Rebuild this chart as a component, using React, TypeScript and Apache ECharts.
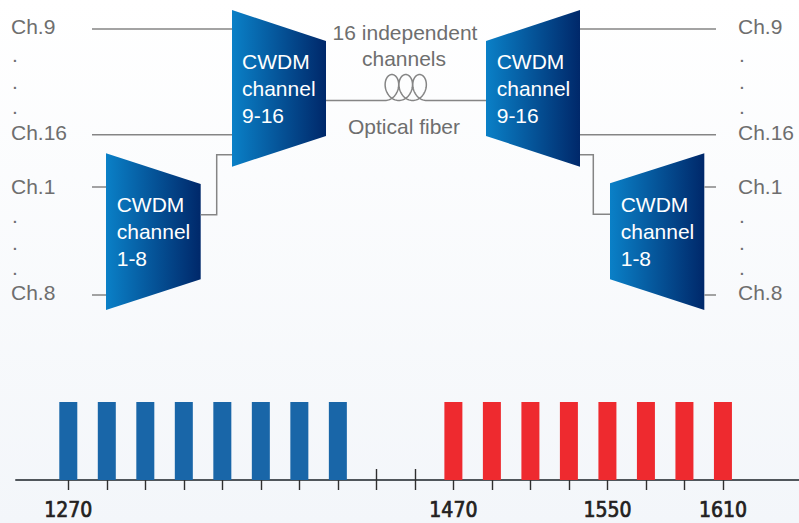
import React, { useEffect, useRef } from "react";
import * as echarts from "echarts";

// CWDM channel centre wavelengths (nm)
const blueChannels = [1270, 1290, 1310, 1330, 1350, 1370, 1390, 1410];
const redChannels = [1470, 1490, 1510, 1530, 1550, 1570, 1590, 1610];
const channelLevel = [1, 1, 1, 1, 1, 1, 1, 1];
const tickValues = [1270, 1290, 1310, 1330, 1350, 1370, 1390, 1410, 1430, 1450, 1470, 1490, 1510, 1530, 1550, 1570, 1590, 1610];
const labelValues = [1270, 1470, 1550, 1610];

const muxLabels = ["CWDM\nchannel\n9-16", "CWDM\nchannel\n1-8"];
const fiberLabels = ["16 independent", "channels", "Optical fiber"];

const GRAY = "#6e6e6e";
const LINE = "#858585";
const FONT = '"Liberation Sans", Arial, sans-serif';

function grad() {
  return new echarts.graphic.LinearGradient(0, 0, 1, 0, [
    { offset: 0, color: "#0a80c7" },
    { offset: 1, color: "#00286a" },
  ]);
}

function txt(text: string, x: number, y: number, fill: string, align = "left") {
  return {
    type: "text",
    x,
    y,
    silent: true,
    style: {
      text,
      fill,
      fontSize: 21,
      fontFamily: FONT,
      lineHeight: 27,
      align,
      verticalAlign: "middle",
    },
  };
}

function line(points: number[][]) {
  return {
    type: "polyline",
    silent: true,
    shape: { points },
    style: { stroke: LINE, lineWidth: 1.5, fill: null },
  };
}

function coilPoints() {
  const pts: number[][] = [[326, 100.5], [385, 100.5]];
  const x0 = 385, yb = 100.5, r = 2.2, a = 10, h = 26;
  const n = 240;
  for (let i = 1; i <= n; i++) {
    const t = (i / n) * 6 * Math.PI;
    pts.push([x0 + r * t + a * Math.sin(t), yb - (h * (1 - Math.cos(t))) / 2]);
  }
  pts.push([486, 100.5]);
  return pts;
}

export default function App() {
  const ref = useRef<HTMLDivElement>(null);
  useEffect(() => {
    if (!ref.current) return;
    const chart = echarts.init(ref.current, undefined, { renderer: "svg" });
    const xMin = 1242.84;
    const xMax = 1649.5;
    const graphic: any[] = [
      // muxes
      { type: "polygon", silent: true, shape: { points: [[232, 10], [326, 41], [326, 136], [232, 166.7]] }, style: { fill: grad() } },
      { type: "polygon", silent: true, shape: { points: [[106, 153.3], [200.7, 184], [200.7, 279.3], [106, 310]] }, style: { fill: grad() } },
      { type: "polygon", silent: true, shape: { points: [[486, 41], [580, 10], [580, 166.7], [486, 136]] }, style: { fill: grad() } },
      { type: "polygon", silent: true, shape: { points: [[610, 183.3], [704.3, 153.3], [704.3, 310], [610, 279.3]] }, style: { fill: grad() } },
      // lines
      line([[92, 29], [232, 29]]),
      line([[92, 134.7], [232, 134.7]]),
      line([[92, 187], [106, 187]]),
      line([[92, 295], [106, 295]]),
      line([[200.7, 214.7], [216.7, 214.7], [216.7, 154.7], [232, 154.7]]),
      line([[580, 29], [716, 29]]),
      line([[580, 134.7], [716, 134.7]]),
      line([[704.3, 187], [716, 187]]),
      line([[704.3, 295], [716, 295]]),
      line([[580, 154.7], [593.3, 154.7], [593.3, 214.3], [610, 214.3]]),
      line(coilPoints()),
      // mux texts
      txt(muxLabels[0], 242, 88, "#ffffff"),
      txt(muxLabels[1], 116.7, 231.5, "#ffffff"),
      txt(muxLabels[0], 496.7, 88, "#ffffff"),
      txt(muxLabels[1], 620.7, 231, "#ffffff"),
      // fiber texts
      txt(fiberLabels[0], 405, 32, GRAY, "center"),
      txt(fiberLabels[1], 404, 58.5, GRAY, "center"),
      txt(fiberLabels[2], 404, 126, GRAY, "center"),
    ];
    const sides = [11, 738];
    for (const sx of sides) {
      graphic.push(txt("Ch.9", sx, 26, GRAY));
      graphic.push(txt(".", sx + 1, 54, GRAY));
      graphic.push(txt(".", sx + 1, 81, GRAY));
      graphic.push(txt(".", sx + 1, 106, GRAY));
      graphic.push(txt("Ch.16", sx, 132, GRAY));
      graphic.push(txt("Ch.1", sx, 186, GRAY));
      graphic.push(txt(".", sx + 1, 215, GRAY));
      graphic.push(txt(".", sx + 1, 242, GRAY));
      graphic.push(txt(".", sx + 1, 267, GRAY));
      graphic.push(txt("Ch.8", sx, 292, GRAY));
    }

    const tickStyle = { color: "#2f2f2f", width: 1.4 };
    chart.setOption({
      animation: false,
      backgroundColor: "transparent",
      grid: { left: 16, right: 0, top: 402, bottom: 43 },
      xAxis: [
        {
          type: "value",
          min: xMin,
          max: xMax,
          position: "bottom",
          axisLine: { show: true, onZero: false, lineStyle: { color: "#50565b", width: 2 } },
          axisTick: { show: true, inside: true, length: 11, customValues: tickValues, lineStyle: tickStyle },
          axisLabel: {
            show: true,
            customValues: labelValues,
            margin: 19,
            fontSize: 21,
            fontFamily: '"Liberation Sans Narrow", "Noto Sans Condensed", "DejaVu Sans Condensed", "Liberation Sans", sans-serif',
            color: "#231f20",
            textBorderColor: "#231f20",
            textBorderWidth: 0.7,
            formatter: (v: number) => String(v),
          },
          splitLine: { show: false },
        },
        {
          type: "value",
          min: xMin,
          max: xMax,
          position: "bottom",
          axisLine: { show: false, onZero: false },
          axisTick: { show: true, inside: false, length: 10, customValues: tickValues, lineStyle: tickStyle },
          axisLabel: { show: false },
          splitLine: { show: false },
        },
      ],
      yAxis: { type: "value", min: 0, max: 1, show: false },
      series: [
        {
          name: "Channels 1-8",
          type: "bar",
          xAxisIndex: 0,
          barWidth: 18,
          barGap: "-100%",
          itemStyle: { color: "#1966a8" },
          data: blueChannels.map((w, i) => [w, channelLevel[i]]),
          z: 1,
        },
        {
          name: "Channels 9-16",
          type: "bar",
          xAxisIndex: 0,
          barWidth: 18,
          barGap: "-100%",
          itemStyle: { color: "#ee2a2f" },
          data: redChannels.map((w, i) => [w, channelLevel[i]]),
          z: 1,
        },
      ],
      graphic,
    });
    return () => chart.dispose();
  }, []);
  return (
    <div
      ref={ref}
      style={{
        position: "fixed",
        left: 0,
        top: 0,
        width: 799,
        height: 523,
        background: "linear-gradient(#ffffff, #f3f6fa)",
      }}
    />
  );
}
